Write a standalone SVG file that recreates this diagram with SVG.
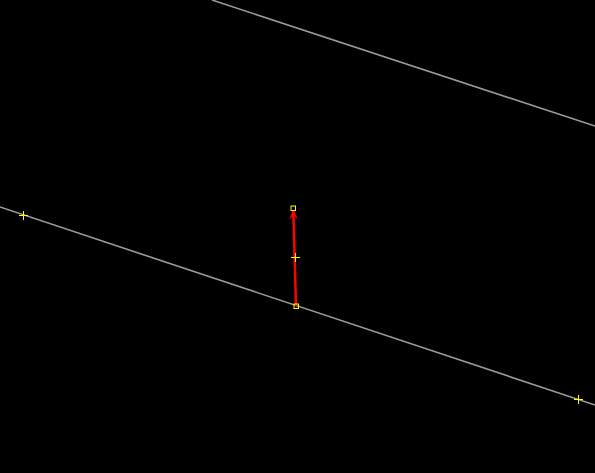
<svg xmlns="http://www.w3.org/2000/svg" width="595" height="473" viewBox="0 0 595 473">
<style>
.ln{stroke:#9a9a9a;stroke-width:1.6;fill:none}
.cr{stroke:#ffff00;stroke-width:1;fill:none}
.hd{stroke:#ffff00;stroke-width:1;fill:none}
</style>
<defs>
<marker id="ah" viewBox="0 0 10 10" refX="9" refY="5" markerWidth="4" markerHeight="4" orient="auto" markerUnits="strokeWidth">
<path d="M0,0.5 L10,5 L0,9.5 L4,5 Z" fill="#ff0000"/>
</marker>
</defs>
<rect width="595" height="473" fill="#000"/>
<g id="lines">
<line class="ln" x1="212" y1="0" x2="595" y2="126"/>
<line class="ln" x1="0" y1="207" x2="595" y2="405"/>
</g>
<g id="connectors">
<line x1="296" y1="306" x2="293.3" y2="210.5" stroke="#ff0000" stroke-width="2.5" marker-end="url(#ah)"/>
</g>
<g id="handles">
<rect class="hd" x="291" y="206" width="4.5" height="4.5"/>
<rect class="hd" x="294" y="304" width="4.5" height="4.5"/>
<path class="cr" d="M19,215.5 H28 M23.5,211 V220"/>
<path class="cr" d="M291,257.5 H300 M295.5,253 V262"/>
<path class="cr" d="M574,399.5 H583 M578.5,395 V404"/>
</g>
</svg>
